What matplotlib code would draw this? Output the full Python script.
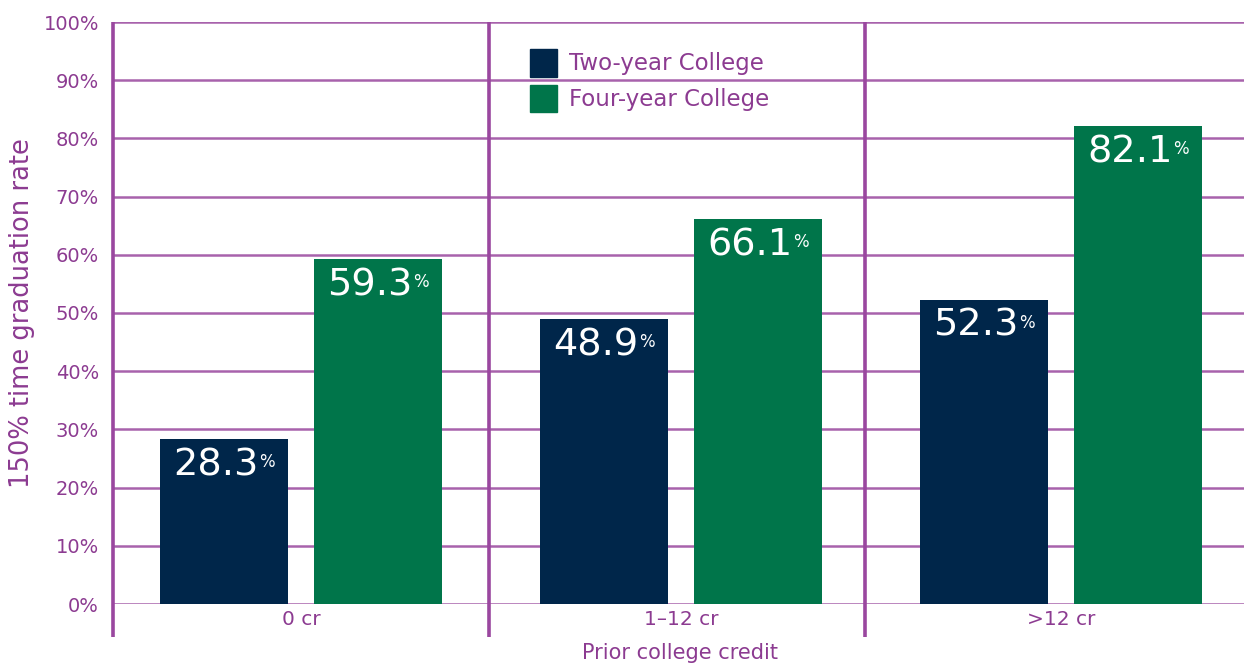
import matplotlib
matplotlib.use("Agg")
import matplotlib.pyplot as plt
from matplotlib.patches import Patch
import numpy as np

categories = ["0 cr", "1\u201312 cr", ">12 cr"]
series_names = ["Two-year College", "Four-year College"]
two_year = [28.3, 48.9, 52.3]
four_year = [59.3, 66.1, 82.1]
yticks = [0, 10, 20, 30, 40, 50, 60, 70, 80, 90, 100]
ytick_labels = [f"{v}%" for v in yticks]

NAVY = "#00264A"
GREEN = "#00754A"
PURPLE = "#8C3B91"
GRID = "#A862AC"
VLINE = "#9A479F"

plt.rcParams["font.family"] = ["DejaVu Sans"]

fig = plt.figure(figsize=(12.44, 6.64), dpi=100)
ax = fig.add_axes([113/1244, 60/664, 1 - 113/1244, 582/664])

UNIT = 380.0  # pixels per group
x = np.arange(len(categories))
w = 128 / UNIT
off = 77 / UNIT
b1 = ax.bar(x - off, two_year, w, color=NAVY, zorder=3)
b2 = ax.bar(x + off, four_year, w, color=GREEN, zorder=3)

ax.set_xlim((113 - 301) / UNIT, (1244 - 301) / UNIT)
ax.set_ylim(0, 100)
ax.set_yticks(yticks)
ax.set_yticklabels(ytick_labels, color=PURPLE, fontsize=14)
ax.set_xticks(x)
ax.set_xticklabels(categories, color=PURPLE, fontsize=14.5)
ax.tick_params(axis="both", length=0)
ax.tick_params(axis="y", pad=10)
ax.tick_params(axis="x", pad=4)
for s in ax.spines.values():
    s.set_visible(False)

for v in yticks:
    ax.axhline(v, color=GRID, lw=1.8, zorder=1)

for px in [113, 489, 865]:
    xv = (px - 301) / UNIT
    ax.plot([xv, xv], [-5.6, 100], color=VLINE, lw=2.6, clip_on=False, zorder=2,
            solid_capstyle="butt")

ax.set_ylabel("150% time graduation rate", color=PURPLE, fontsize=18.5)
ax.yaxis.set_label_coords(-(113-35)/1131, 0.5)
ax.set_xlabel("Prior college credit", color=PURPLE, fontsize=15)
ax.xaxis.set_label_coords((680-113)/1131, -(643-604)/582)

for bars, vals in [(b1, two_year), (b2, four_year)]:
    for rect, v in zip(bars, vals):
        cx = rect.get_x() + rect.get_width()/2
        t = ax.annotate(f"{v:.1f}", xy=(cx, v), xytext=(-6, -6), textcoords="offset points",
                        ha="center", va="top", color="white", fontsize=27.5, zorder=5)
        ax.annotate("%", xy=(1, 0.84), xycoords=t, xytext=(0.5, 0), textcoords="offset points",
                    ha="left", va="top", color="white", fontsize=12, zorder=5)

handles = [Patch(color=NAVY), Patch(color=GREEN)]
leg = ax.legend(handles, series_names, loc="upper left", bbox_to_anchor=(528/1244, 1 - 47/664),
                bbox_transform=fig.transFigure, frameon=False, fontsize=16.5,
                handlelength=1.15, handleheight=1.45, handletextpad=0.55, labelspacing=0.38,
                borderpad=0.1, borderaxespad=0)
for txt in leg.get_texts():
    txt.set_color(PURPLE)

fig.savefig("out.png", dpi=100)
